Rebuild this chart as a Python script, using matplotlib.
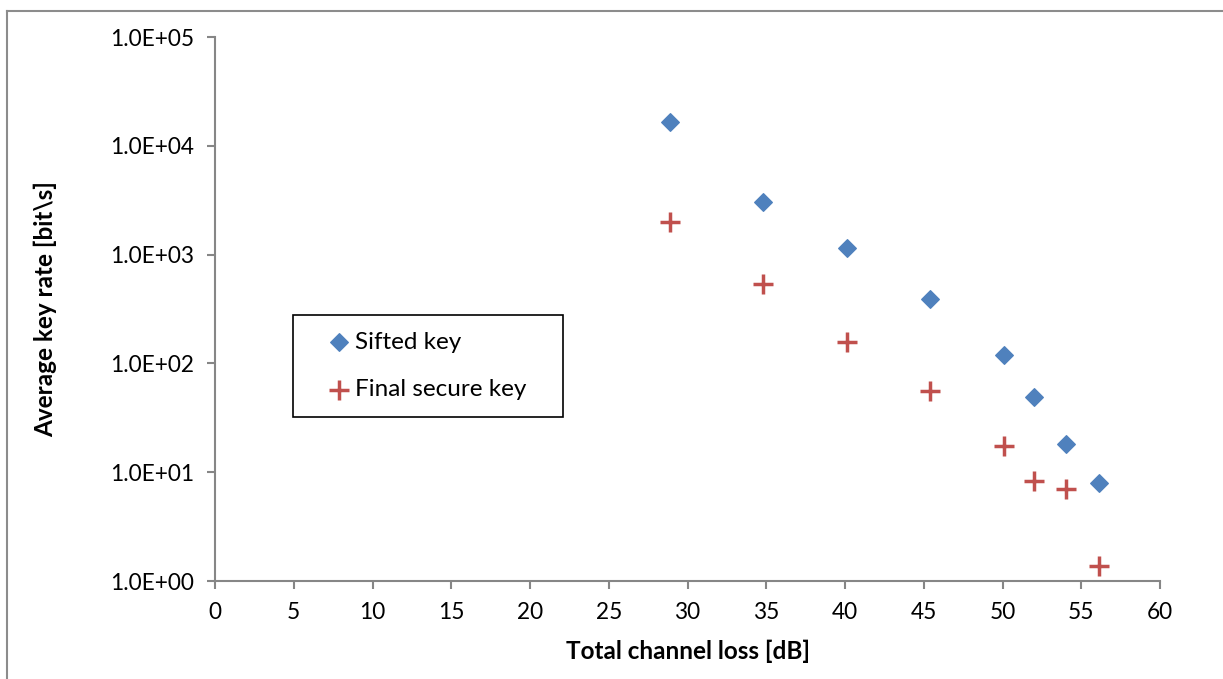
import matplotlib.pyplot as plt
from matplotlib.lines import Line2D
from matplotlib.patches import Rectangle

# data
loss_db = [28.9, 34.8, 40.1, 45.4, 50.1, 52.0, 54.0, 56.1]
sifted_key = [16600, 3050, 1150, 391, 119, 49, 18.2, 8.0]
final_key = [2000, 537, 157, 55.8, 17.4, 8.3, 7.0, 1.37]
x_ticks = [0, 5, 10, 15, 20, 25, 30, 35, 40, 45, 50, 55, 60]
y_ticks = [1e0, 1e1, 1e2, 1e3, 1e4, 1e5]
y_tick_labels = ['1.0E+00', '1.0E+01', '1.0E+02', '1.0E+03', '1.0E+04', '1.0E+05']

plt.rcParams['font.family'] = ['Lato', 'DejaVu Sans']

W, H = 1223, 679
fig = plt.figure(figsize=(W / 100, H / 100), dpi=100)
ax = fig.add_axes([0.1758, 0.1443, 0.9485 - 0.1758, 0.9455 - 0.1443])

ax.scatter(loss_db, sifted_key, marker='D', s=80, color='#4f81bd',
           label='Sifted key', zorder=3)
ax.scatter(loss_db, final_key, marker='+', s=220, linewidths=2.5,
           color='#c0504d', label='Final secure key', zorder=3)

ax.set_yscale('log')
ax.set_xlim(0, 60)
ax.set_ylim(1, 1e5)
ax.set_xticks(x_ticks)
ax.set_yticks(y_ticks)
ax.set_yticklabels(y_tick_labels)
ax.minorticks_off()

for side in ['top', 'right']:
    ax.spines[side].set_visible(False)
for side in ['left', 'bottom']:
    ax.spines[side].set_color('#868686')
    ax.spines[side].set_linewidth(1.5)
ax.tick_params(axis='both', which='major', direction='out', length=6,
               width=1.5, color='#868686', labelsize=16.3, pad=9)

ax.set_xlabel('Total channel loss [dB]', fontsize=17.5, fontweight='bold', labelpad=12)
ax.set_ylabel('Average key rate [bit\\s]', fontsize=17.5, fontweight='bold', labelpad=38)

# legend entries without frame, box drawn separately
leg = ax.legend(loc='center left', bbox_to_anchor=(326 / W, 1 - 366 / H),
                bbox_transform=fig.transFigure, fontsize=17.5, frameon=False,
                borderpad=0, labelspacing=1.1, handletextpad=0.1,
                handlelength=1.1, borderaxespad=0)
fig.add_artist(Rectangle((293 / W, 1 - 417 / H), 270 / W, 102 / H,
                         transform=fig.transFigure, fill=False,
                         edgecolor='black', lw=1.2))

# outer chart border (partly cropped in the reference)
fig.add_artist(Line2D([7 / W, 7 / W], [0, 1 - 11 / H],
                      transform=fig.transFigure, color='#8c8c8c', lw=1.5))
fig.add_artist(Line2D([7 / W, 1], [1 - 11 / H, 1 - 11 / H],
                      transform=fig.transFigure, color='#8c8c8c', lw=1.5))

fig.savefig('out.png', dpi=100)
